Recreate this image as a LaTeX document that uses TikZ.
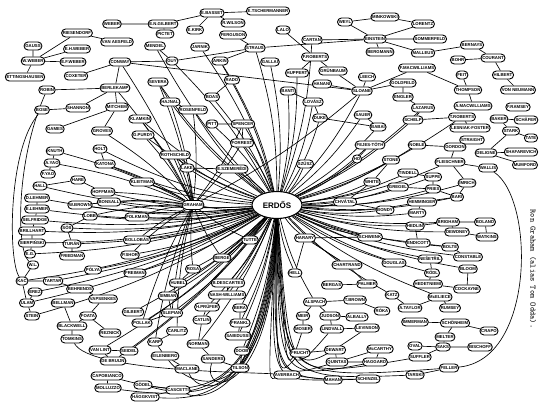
\documentclass[tikz,border=0pt]{standalone}
\usepackage{fontspec}
\setsansfont{Liberation Sans}
\usepackage{tikz}
\usetikzlibrary{shapes.misc,shapes.geometric,backgrounds}

\begin{document}
\begin{tikzpicture}[x=1pt,y=-1pt,
  nm/.style={draw, rounded rectangle, fill=white, line width=0.9pt,
    inner xsep=1pt, inner ysep=0.6pt, minimum height=8pt,
    font=\sffamily\bfseries\fontsize{4.3}{4.3}\selectfont},
  hub/.style={draw, ellipse, fill=white, line width=1.1pt,
    minimum width=50pt, minimum height=27pt,
    font=\sffamily\bfseries\fontsize{8}{8}\selectfont},
  ln/.style={line width=0.65pt},
  note/.style={font=\ttfamily\fontsize{8}{8}\selectfont}]
  \useasboundingbox (0,0) rectangle (542,403);
  % Gauss and Weber corner
  \node[nm] (gauss) at (33,46) {GAUSS};
  \node[nm] (wweber) at (33,61) {W.WEBER};
  \node[nm] (riesendorf) at (77,33) {RIESENDORF};
  \node[nm] (ehweber) at (77,49) {E.H.WEBER};
  \node[nm] (efweber) at (73,62) {E.F.WEBER};
  \node[nm] (hausen) at (25,77) {ETTINGSHAUSEN};
  \node[nm] (weber) at (112,24) {WEBER};
  \node[nm] (vanaesfeld) at (117,42) {VAN AESFELD};
  \node[nm] (coxeter) at (76,76) {COXETER};
  \node[nm] (conway) at (120,62) {CONWAY};
  \node[nm] (berlekamp) at (115,88) {BERLEKAMP};
  \node[nm] (robin) at (47,90) {ROBIN};
  \node[nm] (bose) at (42,110) {BOSE};
  \node[nm] (shannon) at (78,108) {SHANNON};
  \node[nm] (mitchem) at (117,107) {MITCHEM};
  \node[nm] (games) at (55,129) {GAMES};
  \node[nm] (groves) at (102,131) {GROVES};
  \node[nm] (klamkin) at (140,119) {KLAMKIN};
  \node[nm] (purdy) at (143,135) {G.PURDY};
  % top row
  \node[nm] (engilbert) at (163,24) {E.N.GILBERT};
  \node[nm] (ebasset) at (212,13) {E.BASSET};
  \node[nm] (etscherm) at (268,11) {E.TSCHERMANNER};
  \node[nm] (rwilson) at (233,23) {R.WILSON};
  \node[nm] (pictet) at (165,34) {PICTET};
  \node[nm] (ekirk) at (195,30) {E.KIRK};
  \node[nm] (ferguson) at (233,35) {FERGUSON};
  \node[nm] (mendel) at (155,46) {MENDEL};
  \node[nm] (jarnik) at (200,47) {JARNIK};
  \node[nm] (guy) at (172,61) {GUY};
  \node[nm] (arkin) at (220,61) {ARKIN};
  \node[nm] (straus) at (255,48) {STRAUS};
  \node[nm] (gallai) at (270,62) {GALLAI};
  \node[nm] (rado) at (232,80) {RADO};
  \node[nm] (severa) at (158,82) {SEVERA};
  \node[nm] (boas) at (212,97) {BOAS};
  \node[nm] (hajnal) at (170,102) {HAJNAL};
  \node[nm] (rosenfeld) at (193,110) {ROSENFELD};
  \node[nm] (pitt) at (212,124) {PITT};
  \node[nm] (spencer) at (243,124) {SPENCER};
  % Einstein group
  \node[nm] (lalo) at (283,30) {LALO};
  \node[nm] (cartan) at (312,40) {CARTAN};
  \node[nm] (weyl) at (345,22) {WEYL};
  \node[nm] (minkowski) at (385,17) {MINKOWSKI};
  \node[nm] (einstein) at (375,39) {EINSTEIN};
  \node[nm] (bergmann) at (380,52) {BERGMANN};
  \node[nm] (lorentz) at (423,24) {LORENTZ};
  \node[nm] (sommerfeld) at (430,39) {SOMMERFELD};
  \node[nm] (malleus) at (423,53) {MALLEUS};
  \node[nm] (bernays) at (472,45) {BERNAYS};
  \node[nm] (bohr) at (458,60) {BOHR};
  \node[nm] (courant) at (493,58) {COURANT};
  \node[nm] (hilbert) at (503,75) {HILBERT};
  \node[nm] (vonneumann) at (518,90) {VON NEUMANN};
  \node[nm] (feit) at (462,75) {FEIT};
  \node[nm] (thompson) at (468,90) {THOMPSON};
  \node[nm] (fmacw) at (417,68) {F.MACWILLIAMS};
  \node[nm] (amacw) at (473,106) {A.MACWILLIAMS};
  % Sloane group
  \node[nm] (froberts) at (315,57) {F.ROBERTS};
  \node[nm] (huppert) at (297,73) {HUPPERT};
  \node[nm] (grunbaum) at (333,71) {GRÜNBAUM};
  \node[nm] (leech) at (367,77) {LEECH};
  \node[nm] (hanani) at (322,84) {HANANI};
  \node[nm] (sloane) at (362,91) {SLOANE};
  \node[nm] (banti) at (288,91) {BANTI};
  \node[nm] (lovasz) at (313,102) {LOVÁSZ};
  \node[nm] (duke) at (320,118) {DUKE};
  \node[nm] (sauer) at (363,115) {SAUER};
  \node[nm] (babai) at (378,127) {BABAI};
  \node[nm] (goldfeld) at (403,83) {GOLDFELD};
  \node[nm] (engler) at (403,97) {ENGLER};
  \node[nm] (lazarus) at (423,108) {LAZARUS};
  \node[nm] (schelp) at (413,120) {SCHELP};
  \node[nm] (troberts) at (462,117) {T.ROBERTS};
  \node[nm] (lesniak) at (470,128) {LESNIAK-FOSTER};
  \node[nm] (framsey) at (518,107) {F.RAMSEY};
  \node[nm] (baker) at (499,119) {BAKER};
  \node[nm] (schafer) at (526,120) {SCHÄFER};
  \node[nm] (stark) at (511,131) {STARK};
  \node[nm] (tate) at (531,138) {TATE};
  % right side
  \node[nm] (straight) at (472,140) {STRAIGHT};
  \node[nm] (gordon) at (455,147) {GORDON};
  \node[nm] (deligne) at (486,153) {DELIGNE};
  \node[nm] (shafarevich) at (521,152) {SHAFAREVICH};
  \node[nm] (mumford) at (525,165) {MUMFORD};
  \node[nm] (wallis) at (488,168) {WALLIS};
  \node[nm] (fleischner) at (450,162) {FLEISCHNER};
  \node[nm] (noble) at (417,145) {NOBLE};
  \node[nm] (tindell) at (408,173) {TINDELL};
  \node[nm] (suppe) at (433,177) {SUPPE};
  \node[nm] (imrich) at (467,183) {IMRICH};
  \node[nm] (gregel) at (398,187) {GREGEL};
  \node[nm] (pries) at (433,189) {PRIES};
  \node[nm] (bari) at (457,197) {BARI};
  \node[nm] (hemminger) at (422,202) {HEMMINGER};
  \node[nm] (marty) at (417,213) {MARTY};
  \node[nm] (brigham) at (448,222) {BRIGHAM};
  \node[nm] (boland) at (485,222) {BOLAND};
  \node[nm] (hedlin) at (415,226) {HEDLIN};
  \node[nm] (dewdney) at (457,232) {DEWDNEY};
  \node[nm] (watkins) at (487,237) {WATKINS};
  \node[nm] (endicott) at (418,243) {ENDICOTT};
  \node[nm] (bolte) at (450,247) {BOLTE};
  \node[nm] (constable) at (468,257) {CONSTABLE};
  \node[nm] (nesetril) at (430,259) {NEŠETŘIL};
  \node[nm] (bloom) at (468,269) {BLOOM};
  \node[nm] (douglas) at (394,263) {DOUGLAS};
  \node[nm] (rodl) at (432,273) {RÖDL};
  \node[nm] (hedetniemi) at (428,284) {HEDETNIEMI};
  \node[nm] (cockayne) at (467,289) {COCKAYNE};
  \node[nm] (mceliece) at (440,297) {McELIECE};
  \node[nm] (katz) at (392,295) {KATZ};
  \node[nm] (ataylor) at (410,308) {A.TAYLOR};
  \node[nm] (rumsey) at (450,308) {RUMSEY};
  \node[nm] (immerman) at (415,322) {IMMERMAN};
  \node[nm] (schonheim) at (455,323) {SCHÖNHEIM};
  \node[nm] (crapo) at (489,331) {CRAPO};
  \node[nm] (melter) at (445,337) {MELTER};
  \node[nm] (oval) at (415,346) {OVAL};
  \node[nm] (saks) at (443,347) {SAKS};
  \node[nm] (bischoff) at (480,347) {BISCHOFF};
  \node[nm] (suffler) at (420,357) {SUFFLER};
  \node[nm] (feller) at (449,368) {FELLER};
  \node[nm] (tarski) at (415,375) {TARSKI};
  % around Erdos
  \node[nm] (fejestoth) at (370,145) {FEJES-TÓTH};
  \node[nm] (szusz) at (305,164) {SZÜSZ};
  \node[nm] (ho) at (357,159) {HO};
  \node[nm] (stone) at (391,160) {STONE};
  \node[nm] (white) at (372,182) {WHITE};
  \node[nm] (chvatal) at (345,202) {CHVÁTAL};
  \node[nm] (bondy) at (385,210) {BONDY};
  \node[nm] (harary) at (305,238) {HARARY};
  \node[nm] (schwenk) at (370,237) {SCHWENK};
  % bottom middle
  \node[nm] (chartrand) at (347,265) {CHARTRAND};
  \node[nm] (hell) at (295,273) {HELL};
  \node[nm] (bergas) at (332,285) {BERGAS};
  \node[nm] (palmer) at (367,284) {PALMER};
  \node[nm] (alspach) at (315,302) {ALSPACH};
  \node[nm] (tbrown) at (355,300) {T.BROWN};
  \node[nm] (roka) at (382,311) {RÓKA};
  \node[nm] (meir) at (303,316) {MEIR};
  \node[nm] (judson) at (330,316) {JUDSON};
  \node[nm] (alballi) at (357,317) {ALBALLY};
  \node[nm] (moser) at (303,329) {MOSER};
  \node[nm] (lindvall) at (332,329) {LINDVALL};
  \node[nm] (levinson) at (367,328) {LEVINSON};
  \node[nm] (frucht) at (300,353) {FRUCHT};
  \node[nm] (dewart) at (335,350) {DEWART};
  \node[nm] (mccarthy) at (380,349) {McCARTHY};
  \node[nm] (quintas) at (337,362) {QUINTAS};
  \node[nm] (haggard) at (375,362) {HAGGARD};
  \node[nm] (averbach) at (287,375) {AVERBACH};
  \node[nm] (mahan) at (333,380) {MAHAN};
  \node[nm] (schinzel) at (368,379) {SCHINZEL};
  % Tutte and below Graham
  \node[nm] (tutte) at (250,240) {TUTTE};
  \node[nm] (berge) at (222,258) {BERGE};
  \node[nm] (rosa) at (193,269) {ROSA};
  \node[nm] (hubel) at (178,283) {HUBEL};
  \node[nm] (bdescartes) at (228,283) {B.DESCARTES};
  \node[nm] (nashw) at (227,295) {NASH-WILLIAMS};
  \node[nm] (simban) at (168,296) {SIMBAN};
  \node[nm] (hprufer) at (207,307) {H.PRÜFER};
  \node[nm] (bera) at (240,308) {BERA};
  \node[nm] (slepian) at (172,313) {SLEPIAN};
  \node[nm] (catlin) at (202,320) {CATLIN};
  \node[nm] (pollak) at (142,323) {POLLAK};
  \node[nm] (frankl) at (240,323) {FRANKL};
  \node[nm] (sabidussi) at (238,336) {SABIDUSSI};
  \node[nm] (carlitz) at (177,331) {CARLITZ};
  \node[nm] (karp) at (155,342) {KARP};
  \node[nm] (norman) at (198,344) {NORMAN};
  \node[nm] (doob) at (242,351) {DOOB};
  \node[nm] (eilenberg) at (165,356) {EILENBERG};
  \node[nm] (sanders) at (213,359) {SANDERS};
  \node[nm] (maclane) at (187,369) {MACLANE};
  \node[nm] (tilson) at (240,368) {TILSON};
  \node[nm] (godel) at (143,385) {GÖDEL};
  \node[nm] (cascetti) at (178,390) {CASCETTI};
  \node[nm] (haggkvist) at (145,397) {HÄGGKVIST};
  % lower left
  \node[nm] (wl) at (33,265) {W.L.};
  \node[nm] (polya) at (93,270) {PÓLYA};
  \node[nm] (freiman) at (135,273) {FREIMAN};
  \node[nm] (kac) at (22,281) {KAC};
  \node[nm] (tartar) at (53,281) {TARTAR};
  \node[nm] (erez) at (35,292) {EREZ};
  \node[nm] (ulam) at (27,303) {ULAM};
  \node[nm] (stein) at (32,316) {STEIN};
  \node[nm] (behrends) at (80,289) {BEHRENDS};
  \node[nm] (vapsenkes) at (103,299) {VAPSENKES};
  \node[nm] (bellman) at (63,303) {BELLMAN};
  \node[nm] (gilbert) at (133,312) {GILBERT};
  \node[nm] (foata) at (88,316) {FOATA};
  \node[nm] (blackwell) at (72,326) {BLACKWELL};
  \node[nm] (reznick) at (110,333) {REZNICK};
  \node[nm] (tomkins) at (72,339) {TOMKINS};
  \node[nm] (vanlint) at (100,350) {VAN LINT};
  \node[nm] (seidel) at (129,351) {SEIDEL};
  \node[nm] (debruijn) at (113,361) {DE BRUIJN};
  \node[nm] (capobianco) at (107,376) {CAPOBIANCO};
  \node[nm] (molluzzo) at (108,388) {MOLLUZZO};
  % left middle
  \node[nm] (knuth) at (55,151) {KNUTH};
  \node[nm] (ayao) at (52,163) {A.YAO};
  \node[nm] (fyao) at (48,174) {F.YAO};
  \node[nm] (holt) at (100,149) {HOLT};
  \node[nm] (katona) at (105,164) {KATONA};
  \node[nm] (hall) at (40,186) {HALL};
  \node[nm] (hare) at (78,180) {HARE};
  \node[nm] (hoffman) at (103,192) {HOFFMAN};
  \node[nm] (dlehmer) at (37,198) {D.LEHMER};
  \node[nm] (elehmer) at (37,209) {E.LEHMER};
  \node[nm] (selfridge) at (35,220) {SELFRIDGE};
  \node[nm] (wbrown) at (80,205) {W.BROWN};
  \node[nm] (bonsall) at (109,202) {BONSALL};
  \node[nm] (lobb) at (90,216) {LOBB};
  \node[nm] (brillhart) at (32,231) {BRILLHART};
  \node[nm] (sierpinski) at (32,243) {SIERPIŃSKI};
  \node[nm] (eg) at (30,254) {E.G.};
  \node[nm] (sos) at (67,228) {SÓS};
  \node[nm] (turan) at (72,244) {TURÁN};
  \node[nm] (friedman) at (72,256) {FRIEDMAN};
  % Graham
  \node[nm] (kleitman) at (142,182) {KLEITMAN};
  \node[nm] (folkman) at (137,217) {FOLKMAN};
  \node[nm] (bollobas) at (137,240) {BOLLOBÁS};
  \node[nm] (pshor) at (130,255) {P.SHOR};
  \node[nm] (rothschild) at (175,155) {ROTHSCHILD};
  \node[nm] (lake) at (187,168) {LAKE};
  \node[nm] (forrest) at (242,143) {FORREST};
  \node[nm] (szemeredi) at (232,169) {E.SZEMERÉDI};
  \node[nm, minimum height=9pt] (graham) at (193,205) {GRAHAM};
  \node[hub] (erdos) at (277,205) {ERDŐS};
  % side note
  \node[note, rotate=-90, anchor=west] (alias) at (533,206) {Ron Graham (alias Tom Odda).};

  \begin{scope}[on background layer]
    % Erdos links
    \foreach \n in {rado,straus,gallai,jarnik,guy,arkin,boas,spencer,pitt,forrest,
      szemeredi,lovasz,banti,duke,babai,sauer,szusz,ho,fejestoth,stone,white,
      chvatal,bondy,schwenk,harary,hell,chartrand,nesetril,rodl,bloom,constable,
      dewdney,hemminger,bari,pries,tindell,gregel,fleischner,imrich,schelp,
      lazarus,troberts,sloane,cartan,huppert,douglas,katz,alspach,mceliece,
      brigham,marty,hedlin,endicott,bolte,noble,suppe}
      \draw[ln] (\n) to[bend left=8] (erdos);
    \foreach \n in {graham,kleitman,katona,holt,hajnal,severa,rosenfeld,purdy,
      klamkin,turan,sos,dlehmer,elehmer,selfridge,brillhart,sierpinski,eg,ulam,
      kac,stein,polya,freiman,gilbert,pollak,bollobas,pshor,folkman,rosa,tutte,
      berge,bdescartes,nashw,hprufer,bera,frankl,sabidussi,doob,tilson,hubel,
      simban,slepian,catlin,norman,seidel,vanlint,debruijn,hall,mendel,lake,
      rothschild,hoffman,bonsall,wbrown,lobb,tartar,erez}
      \draw[ln] (\n) to[bend right=8] (erdos);
    % bundle running down from Erdos
    \foreach \n/\c in {averbach/268,mahan/270,schinzel/272,quintas/274,
      frucht/276,haggard/278,tarski/280,feller/282,suffler/284,moser/286,
      lindvall/288,levinson/290}
      \draw[ln] (erdos) .. controls (\c,380) .. (\n);
    \foreach \n/\c in {capobianco/262,molluzzo/264,haggkvist/266,cascetti/268,
      godel/270,maclane/272,eilenberg/274,sanders/276}
      \draw[ln] (erdos) .. controls (\c,398) and (200,400) .. (\n);
    % Graham links
    \foreach \n in {conway,berlekamp,rothschild,lake,forrest,kleitman,folkman,
      pshor,bollobas,hajnal,severa,pollak,slepian,carlitz,karp,knuth,ayao,
      hoffman,bonsall,wbrown,lobb,spencer,rosenfeld,purdy,klamkin,groves,
      sloane,tutte,berge,rosa,katona}
      \draw[ln] (\n) to[bend left=6] (graham);
    % local links
    \foreach \a/\b in {gauss/wweber,wweber/riesendorf,wweber/ehweber,
      wweber/efweber,wweber/hausen,riesendorf/vanaesfeld,weber/engilbert,
      engilbert/ebasset,ebasset/etscherm,ebasset/rwilson,engilbert/pictet,
      ekirk/ebasset,conway/coxeter,conway/berlekamp,conway/guy,conway/sloane,
      berlekamp/robin,berlekamp/shannon,berlekamp/mitchem,shannon/bose,
      games/mitchem,groves/mitchem,mendel/guy,guy/straus,arkin/straus,
      ferguson/straus,straus/einstein,cartan/einstein,lalo/froberts,
      froberts/huppert,froberts/grunbaum,weyl/einstein,weyl/minkowski,
      minkowski/lorentz,lorentz/einstein,sommerfeld/einstein,bergmann/einstein,
      malleus/einstein,malleus/bernays,bernays/courant,bohr/courant,
      courant/hilbert,hilbert/vonneumann,fmacw/sloane,fmacw/thompson,
      feit/thompson,thompson/amacw,leech/sloane,grunbaum/sloane,hanani/sloane,
      sloane/goldfeld,goldfeld/engler,engler/lazarus,lazarus/schelp,
      schelp/troberts,troberts/lesniak,baker/schafer,baker/stark,stark/tate,
      stark/deligne,deligne/shafarevich,deligne/mumford,straight/gordon,
      gordon/noble,gordon/fleischner,fleischner/wallis,fleischner/imrich,
      imrich/bari,tindell/suppe,suppe/pries,gregel/pries,pries/bari,
      hemminger/marty,hemminger/bari,brigham/hedlin,brigham/dewdney,
      brigham/boland,dewdney/watkins,boland/watkins,hedlin/endicott,
      endicott/bolte,bolte/constable,nesetril/rodl,rodl/hedetniemi,
      hedetniemi/cockayne,bloom/cockayne,mceliece/rumsey,mceliece/ataylor,
      katz/ataylor,immerman/schonheim,schonheim/crapo,schonheim/melter,
      melter/saks,saks/bischoff,saks/oval,saks/suffler,feller/tarski,
      chvatal/bondy,chvatal/white,white/stone,fejestoth/ho,harary/schwenk,
      harary/hell,harary/chartrand,chartrand/palmer,bergas/palmer,
      alspach/tbrown,alspach/meir,alspach/judson,tbrown/roka,judson/alballi,
      meir/moser,judson/lindvall,lindvall/levinson,frucht/dewart,
      dewart/quintas,quintas/mccarthy,mccarthy/haggard,quintas/haggard,
      mahan/schinzel,averbach/mahan,rosa/hubel,bdescartes/nashw,
      hprufer/catlin,slepian/pollak,slepian/simban,catlin/norman,
      carlitz/karp,karp/eilenberg,norman/sanders,eilenberg/maclane,
      sanders/tilson,doob/tilson,sabidussi/frankl,bera/frankl,
      godel/cascetti,cascetti/haggkvist,wl/kac,kac/ulam,tartar/kac,
      erez/ulam,ulam/stein,tartar/behrends,behrends/vapsenkes,
      bellman/blackwell,foata/blackwell,blackwell/tomkins,reznick/foata,
      vapsenkes/foata,vanlint/seidel,vanlint/debruijn,capobianco/molluzzo,
      knuth/ayao,ayao/fyao,holt/katona,hall/hare,hare/hoffman,
      dlehmer/elehmer,elehmer/selfridge,selfridge/brillhart,
      brillhart/sierpinski,sierpinski/eg,wbrown/bonsall,lobb/sos,turan/sos,
      friedman/turan,rothschild/lake,lake/szemeredi,forrest/spencer,
      pitt/spencer,rosenfeld/hajnal,hajnal/severa,boas/rado,rado/arkin,
      banti/lovasz,lovasz/duke,duke/babai,sauer/babai}
      \draw[ln] (\a) -- (\b);
    % long outer loops
    \draw[ln] (bose) .. controls (8,150) and (8,260) .. (kac);
    \draw[ln] (robin) .. controls (16,160) and (16,250) .. (wl);
    \draw[ln] (wallis) .. controls (535,200) and (535,360) .. (feller);
    \draw[ln] (tomkins) .. controls (90,372) and (250,372) .. (averbach);
  \end{scope}
\end{tikzpicture}
\end{document}
